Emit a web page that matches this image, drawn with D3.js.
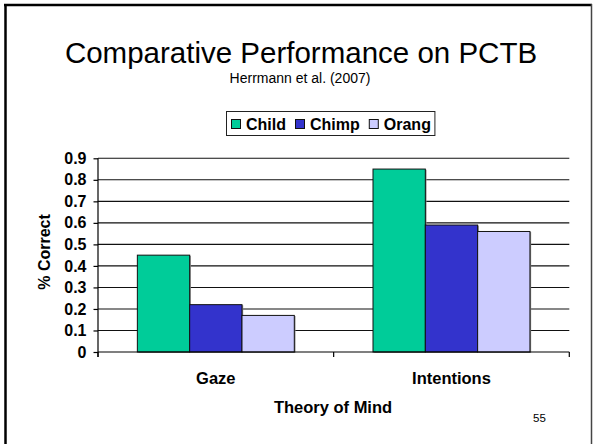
<!DOCTYPE html>
<html>
<head>
<meta charset="utf-8">
<script src="https://cdn.jsdelivr.net/npm/d3@7"></script>
<style>
  html, body { margin: 0; padding: 0; background: #fff; }
  svg { display: block; }
  text { font-family: "Liberation Sans", Arial, sans-serif; }
</style>
</head>
<body>
<svg id="chart" width="594" height="444"></svg>
<script>
const categories = ["Gaze", "Intentions"];
const series = ["Child", "Chimp", "Orang"];
const colors = ["#00CC99", "#3333CC", "#CCCCFF"];
const childValues = [0.45, 0.85];
const chimpValues = [0.22, 0.59];
const orangValues = [0.17, 0.56];
const yTicks = [0, 0.1, 0.2, 0.3, 0.4, 0.5, 0.6, 0.7, 0.8, 0.9];
const yTickLabels = ["0", "0.1", "0.2", "0.3", "0.4", "0.5", "0.6", "0.7", "0.8", "0.9"];
const titleText = "Comparative Performance on PCTB";
const subtitleText = "Herrmann et al. (2007)";
const yLabel = "% Correct";
const xLabel = "Theory of Mind";
const pageNumber = "55";

const valuesBySeries = [childValues, chimpValues, orangValues];

const svg = d3.select("#chart");

// slide frame
svg.append("line").attr("x1", 5.5).attr("y1", 4).attr("x2", 5.5).attr("y2", 444)
  .attr("stroke", "#000").attr("stroke-width", 2.5);
svg.append("line").attr("x1", 4).attr("y1", 5).attr("x2", 592).attr("y2", 5)
  .attr("stroke", "#000").attr("stroke-width", 2.5);
svg.append("line").attr("x1", 591.5).attr("y1", 4).attr("x2", 591.5).attr("y2", 444)
  .attr("stroke", "#444").attr("stroke-width", 1.5);

// titles
svg.append("text").attr("x", 301).attr("y", 63).attr("text-anchor", "middle")
  .attr("font-size", 29.5).attr("fill", "#000").text(titleText);
svg.append("text").attr("x", 300).attr("y", 83).attr("text-anchor", "middle")
  .attr("font-size", 14).attr("fill", "#000").text(subtitleText);

// scales
const plotLeft = 98, plotRight = 569.3, plotBottom = 352, plotTop = 158.3;
const y = d3.scaleLinear().domain([0, 0.9]).range([plotBottom, plotTop]);
const x0 = d3.scaleBand().domain(categories).range([plotLeft, plotRight])
  .paddingInner(0.334).paddingOuter(0.167);
const x1 = d3.scaleBand().domain(series).range([0, x0.bandwidth()]).padding(0);

// gridlines
svg.append("g").selectAll("line").data(yTicks.filter(d => d > 0)).join("line")
  .attr("x1", plotLeft).attr("x2", plotRight)
  .attr("y1", d => y(d)).attr("y2", d => y(d))
  .attr("stroke", "#111").attr("stroke-width", 1.1);

// bars
const groups = svg.append("g").selectAll("g").data(categories).join("g")
  .attr("transform", d => `translate(${x0(d)},0)`);
groups.each(function(cat, ci) {
  const g = d3.select(this);
  series.forEach((s, si) => {
    const v = valuesBySeries[si][ci];
    g.append("rect")
      .attr("x", x1(s) + 1.2).attr("y", y(v) + 0.6)
      .attr("width", x1.bandwidth()).attr("height", plotBottom - y(v))
      .attr("fill", "#888");
    g.append("rect")
      .attr("x", x1(s)).attr("y", y(v))
      .attr("width", x1.bandwidth()).attr("height", plotBottom - y(v))
      .attr("fill", colors[si]).attr("stroke", "#111").attr("stroke-width", 1);
  });
});

// y axis
const yAxis = d3.axisLeft(y).tickValues(yTicks)
  .tickFormat((d, i) => yTickLabels[i]).tickSize(4.5).tickPadding(7);
const yg = svg.append("g").attr("transform", `translate(${plotLeft},0)`).call(yAxis);
yg.select(".domain").remove();
yg.append("line").attr("x1", 0).attr("x2", 0).attr("y1", plotTop).attr("y2", plotBottom + 5)
  .attr("stroke", "#000").attr("stroke-width", 1.2);
yg.selectAll(".tick line").attr("stroke", "#000").attr("stroke-width", 1.2);
yg.selectAll(".tick text").attr("font-size", 16).attr("font-weight", "bold")
  .attr("fill", "#000").style("font-family", '"Liberation Sans", Arial, sans-serif');

// x axis
const xg = svg.append("g");
xg.append("line").attr("x1", plotLeft).attr("x2", plotRight)
  .attr("y1", plotBottom).attr("y2", plotBottom).attr("stroke", "#000").attr("stroke-width", 1.2);
const stepW = x0.step();
const boundaries = [plotLeft, plotLeft + stepW, plotLeft + 2 * stepW];
xg.selectAll("line.tk").data(boundaries).join("line").attr("class", "tk")
  .attr("x1", d => d).attr("x2", d => d).attr("y1", plotBottom).attr("y2", plotBottom + 5)
  .attr("stroke", "#000").attr("stroke-width", 1.2);
xg.selectAll("text").data(categories).join("text")
  .attr("x", d => x0(d) + x0.bandwidth() / 2).attr("y", 383.5)
  .attr("text-anchor", "middle").attr("font-size", 16.5).attr("font-weight", "bold")
  .attr("fill", "#000").text(d => d);

// axis titles
svg.append("text").attr("transform", "translate(50,252) rotate(-90)")
  .attr("text-anchor", "middle").attr("font-size", 16).attr("font-weight", "bold")
  .attr("fill", "#000").text(yLabel);
svg.append("text").attr("x", 333).attr("y", 413).attr("text-anchor", "middle")
  .attr("font-size", 16.5).attr("font-weight", "bold").attr("fill", "#000").text(xLabel);
svg.append("text").attr("x", 533).attr("y", 422).attr("font-size", 11.5)
  .attr("fill", "#000").text(pageNumber);

// legend
const lg = svg.append("g");
const box = lg.append("rect").attr("fill", "#fff").attr("stroke", "#222").attr("stroke-width", 1);
let lx = 231;
series.forEach((s, i) => {
  lg.append("rect").attr("x", lx + 0.5).attr("y", 119.5).attr("width", 9).attr("height", 9)
    .attr("fill", colors[i]).attr("stroke", "#111").attr("stroke-width", 1);
  const t = lg.append("text").attr("x", lx + 15).attr("y", 129.5).attr("font-size", 16)
    .attr("font-weight", "bold").attr("fill", "#000").text(s);
  lx = lx + 15 + t.node().getComputedTextLength() + 9;
});
box.attr("x", 226.5).attr("y", 111.5).attr("width", lx - 9 + 4 - 226.5).attr("height", 24);
</script>
</body>
</html>
